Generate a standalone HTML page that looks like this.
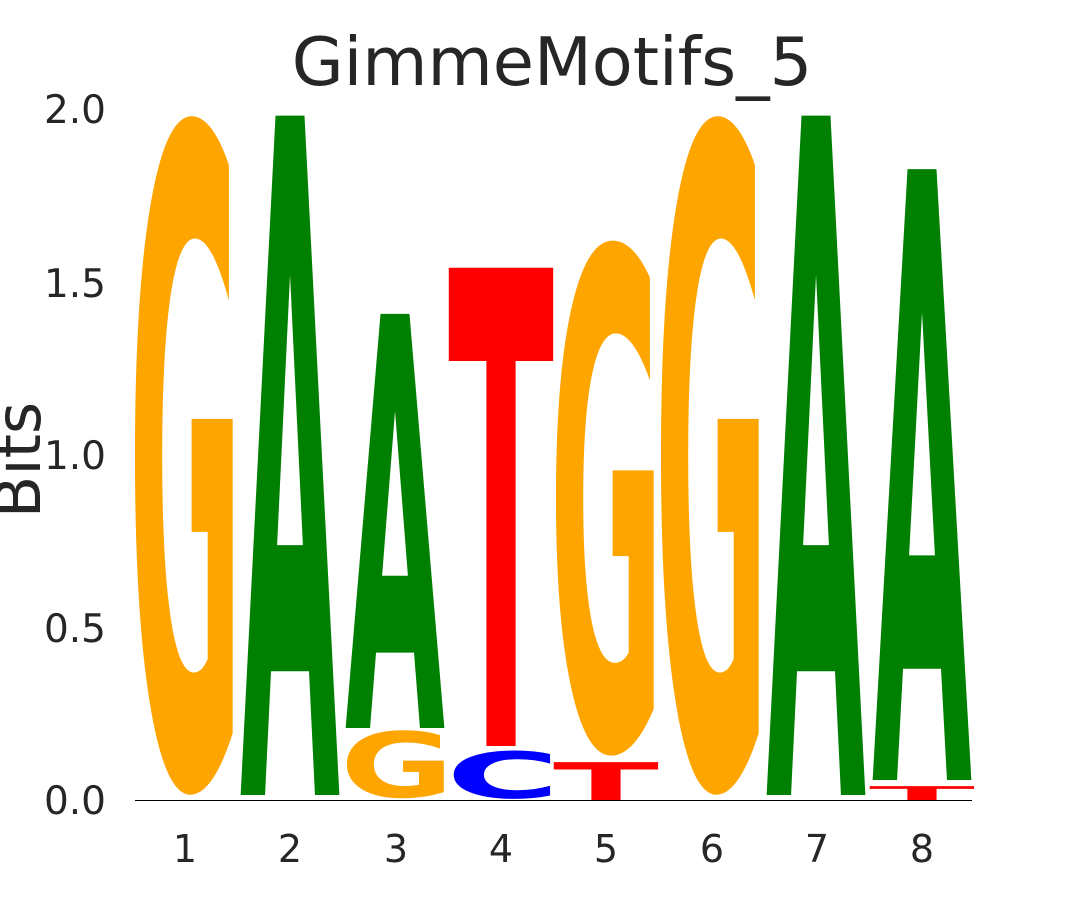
<!DOCTYPE html>
<html><head><meta charset="utf-8"><style>
html,body{margin:0;padding:0;background:#fff;width:1080px;height:900px;overflow:hidden;}
svg{display:block;}
.l{font-family:"DejaVu Sans","Liberation Sans",sans-serif;font-weight:bold;}
.ax{font-family:"DejaVu Sans","Liberation Sans",sans-serif;fill:#262626;}
</style></head><body>
<svg width="1080" height="900" viewBox="0 0 1080 900" xmlns="http://www.w3.org/2000/svg" overflow="hidden">
<rect width="1080" height="900" fill="#fff"/>
<text class="ax" x="552" y="85" font-size="67" text-anchor="middle">GimmeMotifs_5</text>
<g class="ax" font-size="39" text-anchor="end">
<text x="106" y="123">2.0</text>
<text x="106" y="297">1.5</text>
<text x="106" y="469">1.0</text>
<text x="106" y="642">0.5</text>
<text x="106" y="814">0.0</text>
</g>
<text class="ax" font-size="62" text-anchor="middle" transform="translate(40,460) rotate(-90)">Bits</text>
<g class="ax" font-size="38" text-anchor="middle">
<text x="185" y="862">1</text><text x="290" y="862">2</text><text x="396" y="862">3</text><text x="501" y="862">4</text>
<text x="606" y="862">5</text><text x="712" y="862">6</text><text x="817" y="862">7</text><text x="922" y="862">8</text>
</g>
<line x1="135" y1="800.5" x2="972" y2="800.5" stroke="#000" stroke-width="1"/>
<g class="l">
<text x="128" y="782" font-size="897" textLength="115" lengthAdjust="spacingAndGlyphs" fill="#ffa500">G</text>
<text x="240" y="795" font-size="932" textLength="100" lengthAdjust="spacingAndGlyphs" fill="#008000">A</text>
<text x="340" y="797" font-size="90" textLength="114" lengthAdjust="spacingAndGlyphs" fill="#ffa500">G</text>
<text x="345" y="728" font-size="568" textLength="100" lengthAdjust="spacingAndGlyphs" fill="#008000">A</text>
<text x="446" y="798" font-size="64" textLength="114" lengthAdjust="spacingAndGlyphs" fill="#0000ff">C</text>
<text x="448" y="746" font-size="656" textLength="106" lengthAdjust="spacingAndGlyphs" fill="#ff0000">T</text>
<text x="553" y="800" font-size="52" textLength="106" lengthAdjust="spacingAndGlyphs" fill="#ff0000">T</text>
<text x="549" y="746" font-size="681" textLength="115" lengthAdjust="spacingAndGlyphs" fill="#ffa500">G</text>
<text x="654" y="782" font-size="897" textLength="115" lengthAdjust="spacingAndGlyphs" fill="#ffa500">G</text>
<text x="766" y="795" font-size="932" textLength="100" lengthAdjust="spacingAndGlyphs" fill="#008000">A</text>
<text x="869" y="800" font-size="19" textLength="106" lengthAdjust="spacingAndGlyphs" fill="#ff0000">T</text>
<text x="872" y="780" font-size="838" textLength="100" lengthAdjust="spacingAndGlyphs" fill="#008000">A</text>
</g>
</svg>
</body></html>
